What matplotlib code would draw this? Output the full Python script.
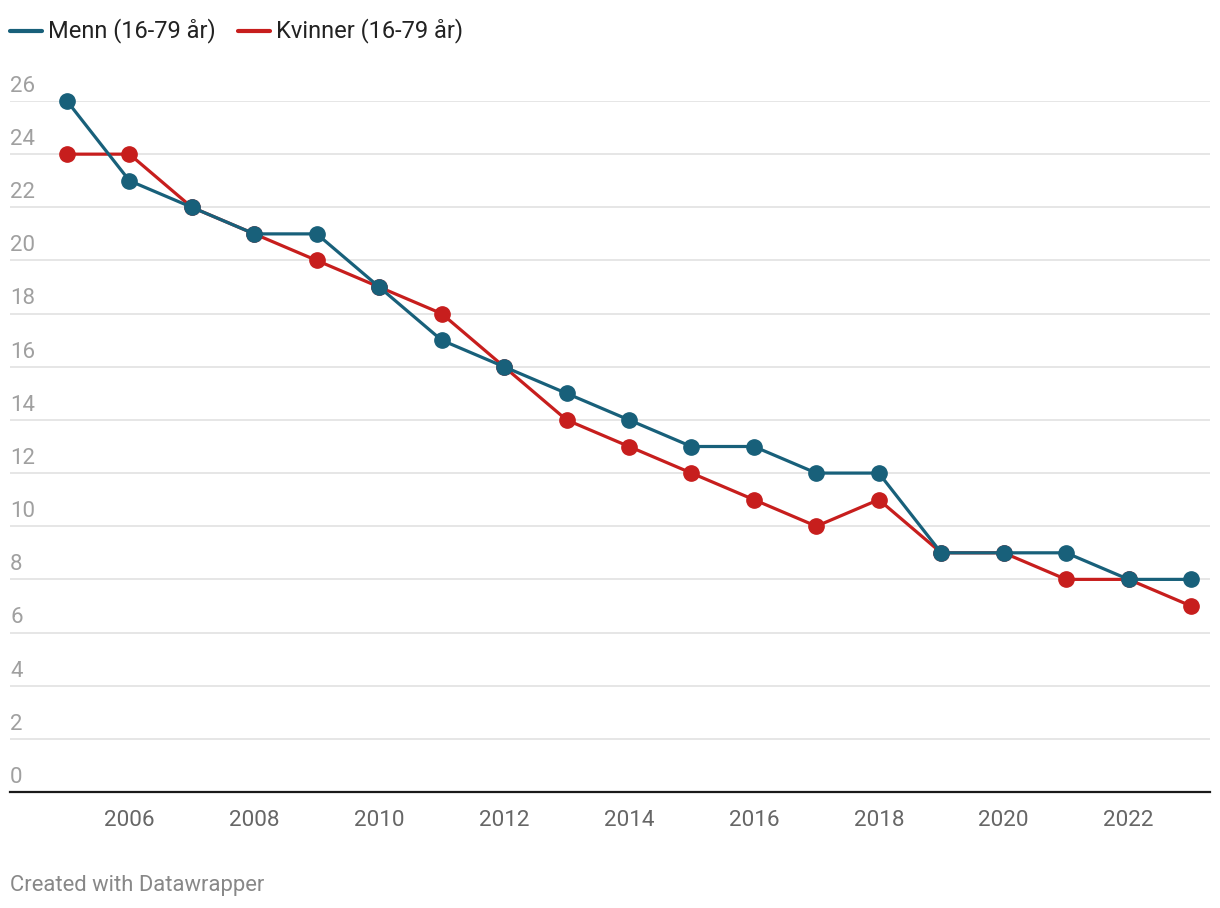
import matplotlib
matplotlib.use('Agg')
from matplotlib import pyplot as plt
from matplotlib.lines import Line2D

plt.rcParams['font.family'] = ['Roboto', 'DejaVu Sans']

years = list(range(2005, 2024))
menn = [26, 23, 22, 21, 21, 19, 17, 16, 15, 14, 13, 13, 12, 12, 9, 9, 9, 8, 8]
kvinner = [24, 24, 22, 21, 20, 19, 18, 16, 14, 13, 12, 11, 10, 11, 9, 9, 8, 8, 7]
yticks = list(range(0, 27, 2))
xticks = list(range(2006, 2023, 2))

blue = '#18607a'
red = '#c71e1d'

W, H = 1220, 908
fig = plt.figure(figsize=(W / 100, H / 100), dpi=100)
ax = fig.add_axes([10 / W, 1 - 792 / H, 1200 / W, (792 - 101) / H])

ax.plot(years, kvinner, color=red, lw=2.3, marker='o', ms=11, zorder=3, clip_on=False)
ax.plot(years, menn, color=blue, lw=2.3, marker='o', ms=11, zorder=4, clip_on=False)

ax.set_xlim(2005 - 57 / 62.44, 2023 + 19 / 62.44)
ax.set_ylim(0, 26)
for s in ax.spines.values():
    s.set_visible(False)
for v in yticks[1:]:
    ax.axhline(v, color='#e2e2e2', lw=1.2, zorder=1)
ax.axhline(0, color='#1a1a1a', lw=1.6, zorder=5, clip_on=False)
ax.set_yticks([])
ax.set_xticks(xticks)
ax.set_xticklabels([str(x) for x in xticks], fontsize=16.2, color='#666666')
ax.tick_params(axis='x', length=0, pad=13)

for v in yticks:
    ax.annotate(str(v), xy=(0, v), xycoords=('axes fraction', 'data'),
                xytext=(0, 3), textcoords='offset points',
                ha='left', va='bottom', fontsize=16, color='#a0a0a0')

# legend
for x0, col, lab in [(10, blue, 'Menn (16-79 år)'), (238, red, 'Kvinner (16-79 år)')]:
    fig.add_artist(Line2D([x0 / W, (x0 + 32) / W], [1 - 31 / H] * 2,
                          color=col, lw=3, solid_capstyle='round'))
    fig.text((x0 + 38) / W, 1 - 31 / H, lab, fontsize=17, color='#222222',
             ha='left', va='center')

fig.text(10 / W, 1 - 885 / H, 'Created with Datawrapper', fontsize=15.8,
         color='#888888', ha='left', va='center')

fig.savefig('out.png', dpi=100)
